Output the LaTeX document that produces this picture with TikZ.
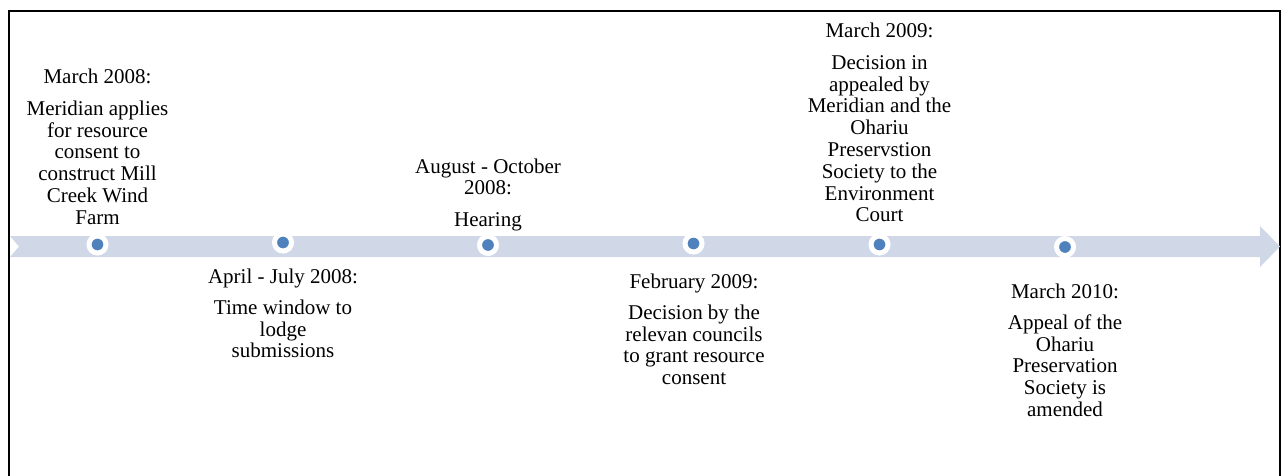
\documentclass[tikz,border=0pt]{standalone}
\usepackage{fontspec}
\setmainfont{Liberation Serif}
\definecolor{bandfill}{RGB}{208,216,232}
\definecolor{dotblue}{RGB}{79,129,189}
\tikzset{
  evtdot/.style={circle, fill=dotblue, draw=white, line width=5pt, minimum size=17pt, inner sep=0pt},
  evtlabel/.style={inner sep=0pt, anchor=base, font=\fontsize{21}{21.8}\selectfont}
}
\newcommand{\evt}[2]{\begin{tabular}[t]{@{}c@{}}#1\\[9.5pt]#2\end{tabular}}
\begin{document}
\begin{tikzpicture}[x=1pt,y=-1pt]
\useasboundingbox (0,0) rectangle (1287,476);
\draw[line width=1.8pt] (9,482) -- (9,11) -- (1280,11) -- (1280,482);
\fill[bandfill] (10,236) -- (1260,236) -- (1260,226) -- (1280,246.5) -- (1260,267) -- (1260,257) -- (10,257) -- (19,246.5) -- cycle;
\node[evtdot] (d1) at (97.5,244.5) {};
\node[evtdot] (d2) at (283,242.5) {};
\node[evtdot] (d3) at (488,245) {};
\node[evtdot] (d4) at (693.5,243.5) {};
\node[evtdot] (d5) at (879.5,244.5) {};
\node[evtdot] (d6) at (1065,247) {};
\node[evtlabel] (t1) at (97.5,84) {\evt{March 2008:}{Meridian applies\\ for resource\\ consent to\\ construct Mill\\ Creek Wind\\ Farm}};
\node[evtlabel] (t2) at (283,283) {\evt{April - July 2008:}{Time window to\\ lodge\\ submissions}};
\node[evtlabel] (t3) at (488,173) {\evt{August - October\\ 2008:}{Hearing}};
\node[evtlabel] (t4) at (694,288) {\evt{February 2009:}{Decision by the\\ relevan councils\\ to grant resource\\ consent}};
\node[evtlabel] (t5) at (879.5,38) {\evt{March 2009:}{Decision in\\ appealed by\\ Meridian and the\\ Ohariu\\ Preservstion\\ Society to the\\ Environment\\ Court}};
\node[evtlabel] (t6) at (1065,298) {\evt{March 2010:}{Appeal of the\\ Ohariu\\ Preservation\\ Society is\\ amended}};
\end{tikzpicture}
\end{document}
